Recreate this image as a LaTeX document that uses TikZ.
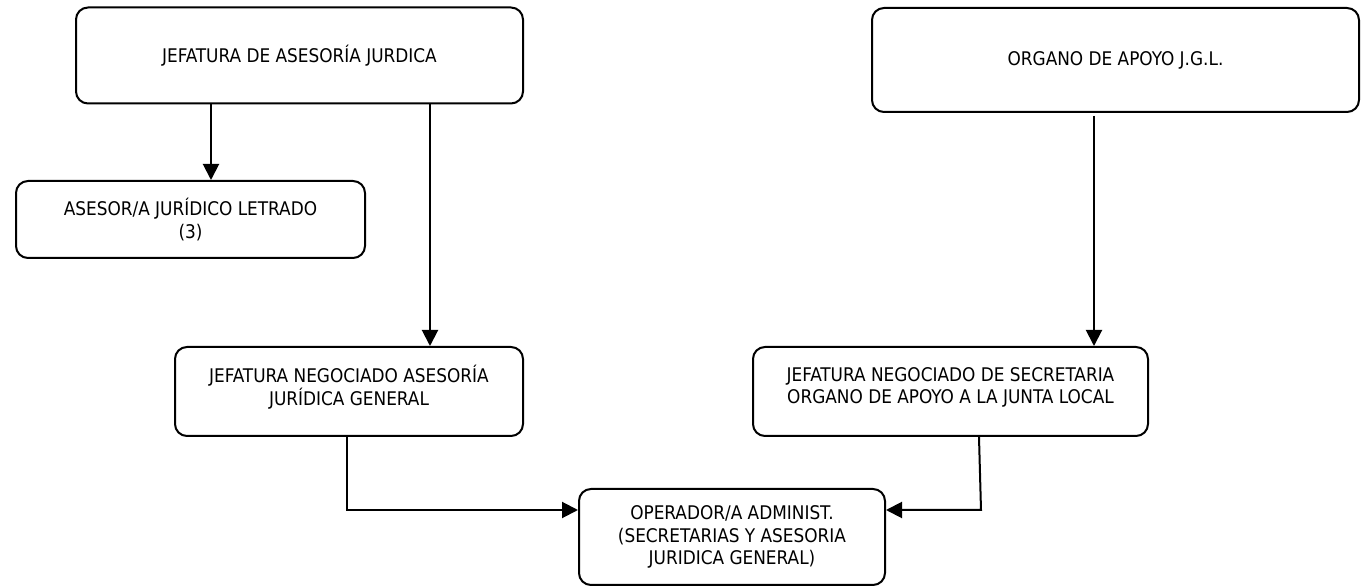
\documentclass[tikz,border=0pt]{standalone}
\usepackage{fontspec}
\setmainfont{DejaVu Sans Condensed}
\usetikzlibrary{arrows.meta}

\begin{document}
\begin{tikzpicture}[x=0.5pt, y=-0.5pt,
  box/.style={draw, rounded corners=6pt, line width=1pt, align=center, inner sep=0pt, font=\fontsize{9.4}{11.4}\selectfont},
  arr/.style={line width=1pt, -{Triangle[length=8pt,width=8pt]}}]
\useasboundingbox (0,0) rectangle (1361,587);
\node[box, minimum width=223.5pt, minimum height=48pt] (jefAJ) at (299.5,55.5){JEFATURA DE ASESORÍA JURDICA};
\node[box, minimum width=243.5pt, minimum height=52pt] (orgJGL) at (1115.5,60){ORGANO DE APOYO J.G.L.};
\node[box, minimum width=174.5pt, minimum height=38.5pt] (asesor) at (190.5,219.5){ASESOR/A JURÍDICO LETRADO\\(3)};
\node[box, minimum width=174pt, minimum height=44.5pt, text depth=6pt] (negAJ) at (349,391.5){JEFATURA NEGOCIADO ASESORÍA\\JURÍDICA GENERAL};
\node[box, minimum width=197.5pt, minimum height=44.5pt, text depth=6pt] (negSec) at (950.5,391.5){JEFATURA NEGOCIADO DE SECRETARIA\\ORGANO DE APOYO A LA JUNTA LOCAL};
\node[box, minimum width=153pt, minimum height=48pt] (oper) at (732,537){OPERADOR/A ADMINIST.\\(SECRETARIAS Y ASESORIA\\JURIDICA GENERAL)};
\coordinate (ab) at (211,0);
\coordinate (ac) at (430,0);
\coordinate (fe) at (1094,116);
\coordinate (cd) at (347,510);
\coordinate (ed) at (979,0);
\coordinate (bend) at (981,510);
\draw[arr](jefAJ.south -| ab) -- (asesor.north -| ab);
\draw[arr](jefAJ.south -| ac) -- (negAJ.north -| ac);
\draw[arr](fe) -- (negSec.north -| fe);
\draw[arr](negAJ.south -| cd) |- (oper.west |- cd);
\draw[arr](negSec.south -| ed) -- (bend) -- (oper.east |- bend);
\end{tikzpicture}
\end{document}
